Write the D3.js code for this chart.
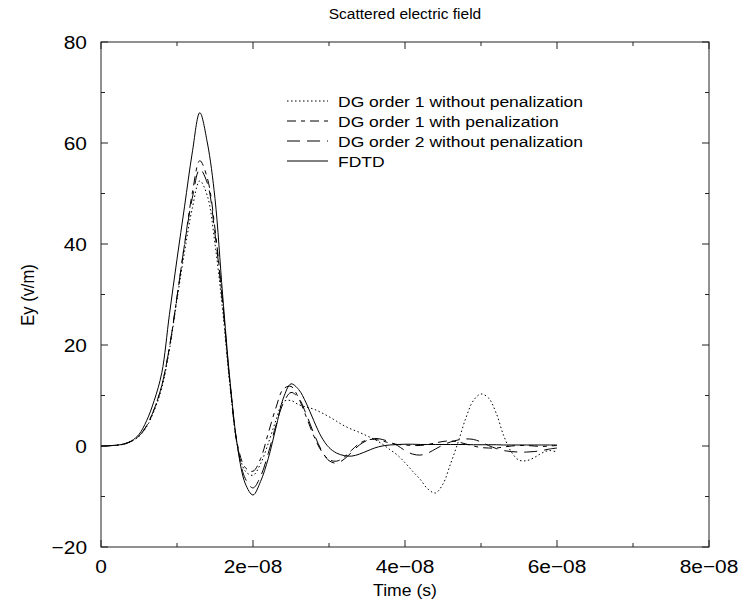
<!DOCTYPE html>
<html>
<head>
<meta charset="UTF-8">
<title>Scattered electric field</title>
<style>
  body { margin: 0; background: #fff; }
  svg { display: block; font-family: "Liberation Sans", Arial, sans-serif; }
</style>
</head>
<body>
<svg id="chart" width="739" height="605"></svg>
<script src="https://d3js.org/d3.v7.min.js"></script>
<script>
// sample times, in units of 1e-8 s
const time = [0,0.1,0.2,0.3,0.4,0.5,0.6,0.7,0.8,0.9,1.0,1.1,1.2,1.3,1.4,1.5,1.6,1.7,1.8,1.9,
  2.0,2.1,2.2,2.3,2.4,2.5,2.6,2.7,2.8,2.9,3.0,3.1,3.2,3.3,3.4,3.5,3.6,3.7,3.8,3.9,
  4.0,4.1,4.2,4.3,4.4,4.5,4.6,4.7,4.8,4.9,5.0,5.1,5.2,5.3,5.4,5.5,5.6,5.7,5.8,5.9,6.0];

// Ey (v/m)
const dg1NoPen = [0,0.05,0.15,0.35,0.9,1.9,3.8,7,11.5,19,29,38.5,47,52.5,49.5,40,27,11.5,-0.3,-5,
  -5.8,-3.5,0.5,5,8.8,9.0,8.2,7.7,7.3,6.6,5.8,4.9,4.0,3.3,2.7,2.0,1.3,0.4,-0.7,-1.8,
  -3.3,-5.0,-6.6,-8.5,-9.3,-7.5,-3.5,0.8,5.5,9.0,10.3,9.5,6.5,2.0,-1.2,-2.8,-2.9,-2.3,-1.4,-0.9,-1.2];

const dg1Pen = [0,0.05,0.15,0.38,0.95,2.0,4.0,7.3,12,19.5,29.5,40,50,56.5,53,43,28.5,12,0,-4.3,
  -5,-2.5,2.5,7.5,11.3,11.8,9.5,5.8,2,-1,-2.7,-3,-2.2,-0.8,0.5,1.2,1.3,1.0,0.6,0.3,
  0.2,0.1,0.1,0.3,0.6,0.9,1.0,0.8,0.4,0,-0.3,-0.4,-0.4,-0.2,0,0.1,0.1,0,-0.1,0,0.1];

const dg2NoPen = [0,0.05,0.15,0.38,0.95,2.0,4.0,7.3,12,19.5,29.5,40,49,54.8,52,42,28.5,12,-0.5,-6.5,
  -8.3,-6,-1.5,4,8.5,10.6,9.5,6.3,2.5,-0.8,-2.9,-3.4,-2.6,-1.2,0.2,1.1,1.5,1.3,0.8,0.1,
  -0.9,-1.6,-1.8,-1.4,-0.6,0.2,0.8,1.2,1.4,1.3,0.8,0.1,-0.5,-0.9,-1.1,-1.2,-1.2,-1.1,-0.9,-0.6,-0.4];

const fdtd = [0,0.05,0.15,0.4,1.0,2.3,5,9,14.5,26,37,47.5,58,66,60,49,30,12.5,-0.5,-7.5,
  -9.7,-7,-2.5,3.5,9.5,12.3,11.2,8.5,5,1.8,-0.3,-1.4,-1.9,-2,-1.6,-1.0,-0.4,0,0.2,0.3,
  0.35,0.35,0.3,0.3,0.3,0.3,0.3,0.3,0.3,0.25,0.25,0.25,0.25,0.2,0.2,0.2,0.2,0.2,0.2,0.2,0.2];

const seriesNames = ["DG order 1 without penalization", "DG order 1 with penalization",
  "DG order 2 without penalization", "FDTD"];
const seriesValues = [dg1NoPen, dg1Pen, dg2NoPen, fdtd];
const dashes = ["1.5,2.5", "9,5,4,5", "13,7", null];

const xTicks = [0, 2e-8, 4e-8, 6e-8, 8e-8];
const xTickLabels = ["0", "2e\u221208", "4e\u221208", "6e\u221208", "8e\u221208"];
const yTicks = [-20, 0, 20, 40, 60, 80];
const yTickLabels = ["\u221220", "0", "20", "40", "60", "80"];

const svg = d3.select("#chart");
const mLeft = 101, mRight = 709, mTop = 42, mBottom = 547;

const x = d3.scaleLinear().domain([0, 8e-8]).range([mLeft, mRight]);
const y = d3.scaleLinear().domain([-20, 80]).range([mBottom, mTop]);

// curves
const line = d3.line()
  .x(d => x(d[0] * 1e-8))
  .y(d => y(d[1]))
  .curve(d3.curveCatmullRom);

const plot = svg.append("g");
seriesValues.forEach((vals, i) => {
  plot.append("path")
    .datum(time.map((t, k) => [t, vals[k]]))
    .attr("fill", "none")
    .attr("stroke", "#000")
    .attr("stroke-width", 1)
    .attr("stroke-dasharray", dashes[i])
    .attr("d", line);
});

// frame and inward ticks
const frame = svg.append("g").attr("stroke", "#222").attr("stroke-width", 1).attr("fill", "none");
frame.append("rect").attr("x", mLeft).attr("y", mTop).attr("width", mRight - mLeft).attr("height", mBottom - mTop);

const xMinor = d3.range(1e-8, 8e-8, 2e-8);
const yMinor = d3.range(-10, 80, 20);

xTicks.forEach(t => {
  frame.append("line").attr("x1", x(t)).attr("x2", x(t)).attr("y1", mBottom).attr("y2", mBottom - 7);
  frame.append("line").attr("x1", x(t)).attr("x2", x(t)).attr("y1", mTop).attr("y2", mTop + 7);
});
xMinor.forEach(t => {
  frame.append("line").attr("x1", x(t)).attr("x2", x(t)).attr("y1", mBottom).attr("y2", mBottom - 4);
  frame.append("line").attr("x1", x(t)).attr("x2", x(t)).attr("y1", mTop).attr("y2", mTop + 4);
});
yTicks.forEach(v => {
  frame.append("line").attr("x1", mLeft).attr("x2", mLeft + 7).attr("y1", y(v)).attr("y2", y(v));
  frame.append("line").attr("x1", mRight).attr("x2", mRight - 7).attr("y1", y(v)).attr("y2", y(v));
});
yMinor.forEach(v => {
  frame.append("line").attr("x1", mLeft).attr("x2", mLeft + 4).attr("y1", y(v)).attr("y2", y(v));
  frame.append("line").attr("x1", mRight).attr("x2", mRight - 4).attr("y1", y(v)).attr("y2", y(v));
});

// text, slightly stretched sideways like the picture's
function label(g, px, py, str, size, anchor, sx, rot) {
  return g.append("text")
    .attr("transform", `translate(${px},${py})` + (rot ? ` rotate(${rot}) scale(1,${sx})` : ` scale(${sx},1)`))
    .attr("text-anchor", anchor)
    .attr("font-size", size)
    .text(str);
}

// tick labels
const tl = svg.append("g");
xTicks.forEach((t, i) => label(tl, x(t), 573, xTickLabels[i], 19, "middle", 1.1));
yTicks.forEach((v, i) => label(tl, 87, y(v) + 7, yTickLabels[i], 19, "end", 1.1));

// titles
label(svg, 405, 19, "Scattered electric field", 15.5, "middle", 1);
label(svg, 405, 596, "Time (s)", 16, "middle", 1.1);
label(svg, 34, 295, "Ey (v/m)", 16.5, "middle", 1.1, -90);

// legend
const legend = svg.append("g");
seriesNames.forEach((name, i) => {
  const ly = 101 + i * 20;
  legend.append("line").attr("x1", 287).attr("x2", 328).attr("y1", ly).attr("y2", ly)
    .attr("stroke", "#000").attr("stroke-width", 1).attr("stroke-dasharray", dashes[i]);
  label(legend, 338, ly + 5.5, name, 15.5, "start", 1.13);
});
</script>
</body>
</html>
